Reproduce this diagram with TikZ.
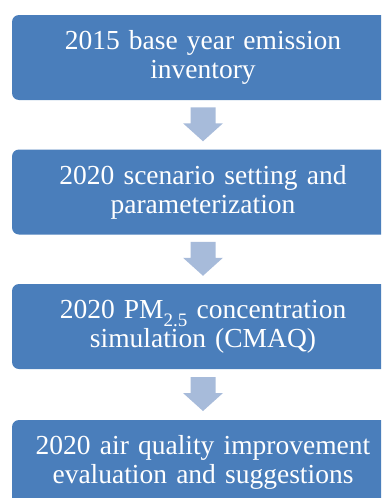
\documentclass[tikz,border=0pt]{standalone}
\usepackage{fontspec}
\setmainfont{Liberation Serif}
\definecolor{boxblue}{RGB}{74,126,187}
\definecolor{arrowblue}{RGB}{167,187,218}
\newcommand{\pmsub}[1]{\raisebox{-8pt}{\fontsize{19}{19}\selectfont #1}}
\tikzset{stage/.style={fill=boxblue, rounded corners=7pt, inner sep=0pt, minimum width=382pt, minimum height=85pt, text width=376pt, align=center, text=white, font=\fontsize{27.5}{29}\selectfont}}

\begin{document}
\begin{tikzpicture}[x=1pt,y=-1pt]
\useasboundingbox (0,0) rectangle (381,498);
\clip (0,0) rectangle (381,498);
\node[stage] (inv) at (203,57.5) {2015 base year emission\\inventory};
\node[stage] (scen) at (203,192) {2020 scenario setting and\\parameterization};
\node[stage] (cmaq) at (203,326.5) {2020 PM\pmsub{2.5} concentration\\simulation (CMAQ)};
\node[stage] (eval) at (203,462.5) {2020 air quality improvement\\evaluation and suggestions};
\foreach \a/\b in {inv/scen,scen/cmaq,cmaq/eval}{
  \path (\a.south) -- (\b.north) coordinate[midway] (m);
  \fill[arrowblue] (m) +(-12.5,-17.5) -- +(12.5,-17.5) -- +(12.5,-1.5) -- +(20,-1.5)
    -- +(0,16.5) -- +(-20,-1.5) -- +(-12.5,-1.5) -- cycle;
}
\end{tikzpicture}
\end{document}
